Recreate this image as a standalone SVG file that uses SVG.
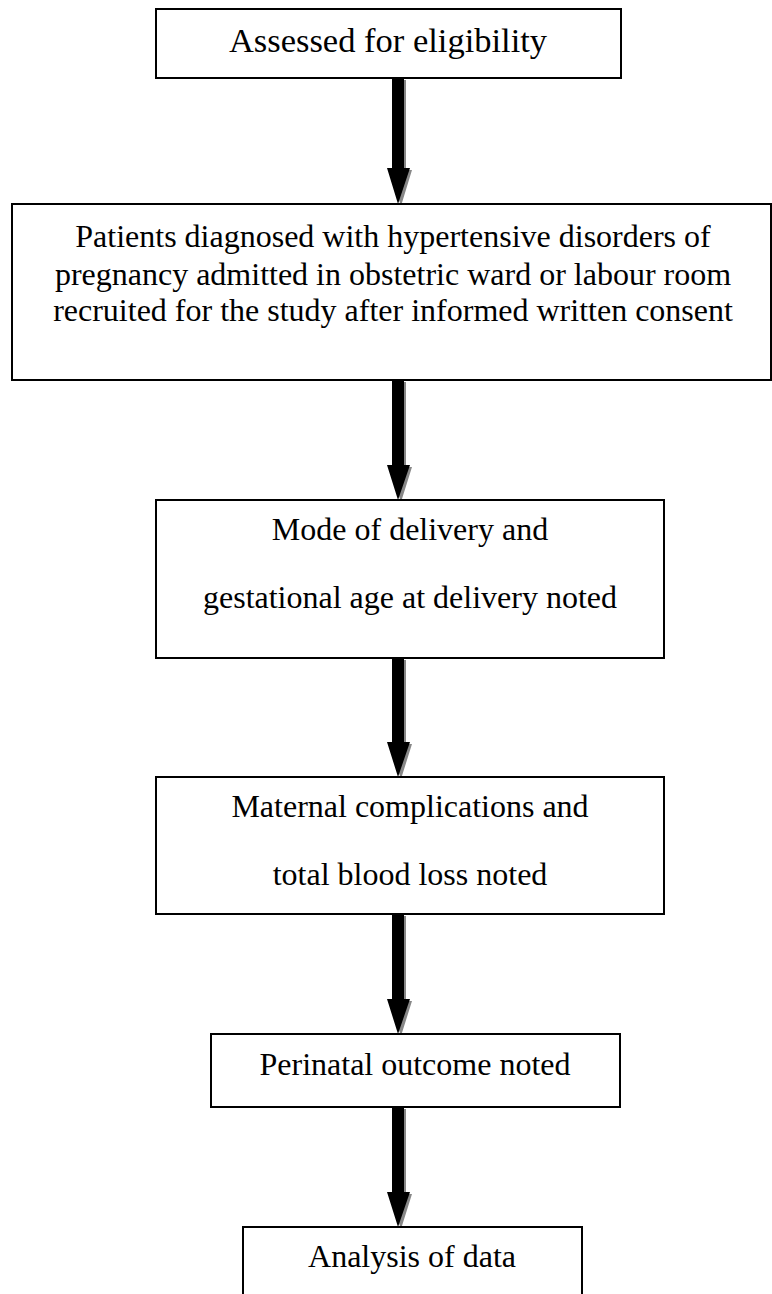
<svg xmlns="http://www.w3.org/2000/svg" width="772" height="1294" viewBox="0 0 772 1294">
<style>
.box{fill:#fff;stroke:#000;stroke-width:2}
.t{font-family:"Liberation Serif","Times New Roman",serif;font-size:32px;fill:#000;text-anchor:middle}
.sh{fill:#888}
.ar{fill:#000}
</style>
<defs>
<path id="arrowShape" d="M-6,0 H6 V-35 H11.5 L0,0 Z"/>
</defs>
<rect width="772" height="1294" fill="#fff"/>
<g id="connectors">
  <g id="a1">
    <path class="sh" d="M394,80 H406 V170 H412 L401,206 L389,170 H394 Z"/>
    <path class="ar" d="M392,78 H404 V168 H410 L398,204 L387,168 H392 Z"/>
  </g>
  <g id="a2">
    <path class="sh" d="M394,382 H406 V467 H412 L401,502 L389,467 H394 Z"/>
    <path class="ar" d="M392,380 H404 V465 H410 L398,500 L387,465 H392 Z"/>
  </g>
  <g id="a3">
    <path class="sh" d="M394,660 H406 V744 H412 L401,779 L389,744 H394 Z"/>
    <path class="ar" d="M392,658 H404 V742 H410 L398,777 L387,742 H392 Z"/>
  </g>
  <g id="a4">
    <path class="sh" d="M394,916 H406 V1001 H412 L401,1036 L389,1001 H394 Z"/>
    <path class="ar" d="M392,914 H404 V999 H410 L398,1034 L387,999 H392 Z"/>
  </g>
  <g id="a5">
    <path class="sh" d="M394,1109 H406 V1194 H412 L401,1229 L389,1194 H394 Z"/>
    <path class="ar" d="M392,1107 H404 V1192 H410 L398,1227 L387,1192 H392 Z"/>
  </g>
</g>
<g id="n1">
  <rect class="box" x="156" y="9" width="465" height="69"/>
  <text class="t" x="388" y="52" style="font-size:34.5px">Assessed for eligibility</text>
</g>
<g id="n2">
  <rect class="box" x="12" y="204" width="759" height="176"/>
  <text class="t" x="393" y="247">Patients diagnosed with hypertensive disorders of</text>
  <text class="t" x="393" y="285">pregnancy admitted in obstetric ward or labour room</text>
  <text class="t" x="393" y="321">recruited for the study after informed written consent</text>
</g>
<g id="n3">
  <rect class="box" x="156" y="500" width="508" height="158"/>
  <text class="t" x="410" y="540">Mode of delivery and</text>
  <text class="t" x="410" y="608">gestational age at delivery noted</text>
</g>
<g id="n4">
  <rect class="box" x="156" y="777" width="508" height="137"/>
  <text class="t" x="410" y="817">Maternal complications and</text>
  <text class="t" x="410" y="885">total blood loss noted</text>
</g>
<g id="n5">
  <rect class="box" x="211" y="1034" width="409" height="73"/>
  <text class="t" x="415" y="1075">Perinatal outcome noted</text>
</g>
<g id="n6">
  <rect class="box" x="243" y="1227" width="339" height="80"/>
  <text class="t" x="412" y="1267">Analysis of data</text>
</g>
</svg>
